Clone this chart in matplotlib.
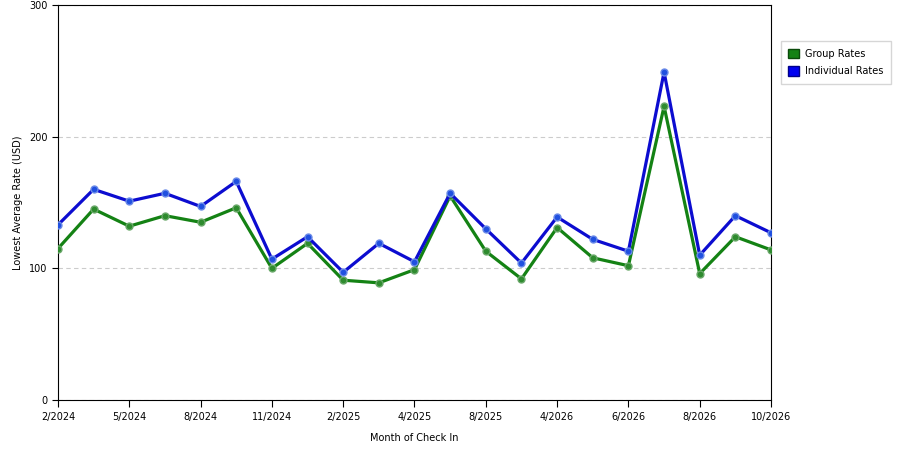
import matplotlib
matplotlib.use('Agg')
import matplotlib.pyplot as plt
from matplotlib.patches import Patch

months = ['2/2024', '3/2024', '5/2024', '6/2024', '8/2024', '9/2024', '11/2024',
          '12/2024', '2/2025', '3/2025', '4/2025', '6/2025', '8/2025', '9/2025',
          '4/2026', '5/2026', '6/2026', '7/2026', '8/2026', '9/2026', '10/2026']
tick_labels = ['2/2024', '5/2024', '8/2024', '11/2024', '2/2025', '4/2025',
               '8/2025', '4/2026', '6/2026', '8/2026', '10/2026']
group_rates = [115, 145, 132, 140, 135, 146, 100, 119, 91, 89, 99, 155, 113, 92,
               131, 108, 102, 223, 96, 124, 114]
indiv_rates = [133, 160, 151, 157, 147, 166, 107, 124, 97, 119, 105, 157, 130, 104,
               139, 122, 113, 249, 110, 140, 127]

green = '#148214'
blue = '#0c0cd0'

fig = plt.figure(figsize=(9, 4.5), dpi=100)
ax = fig.add_axes([0.0644, 0.111, 0.7923, 0.878])

x = list(range(len(months)))
ax.plot(x, group_rates, '-o', color=green, lw=2.3, ms=5,
        mfc='#2e8b2e', mec='#6aa86a', mew=1, zorder=3)
ax.plot(x, indiv_rates, '-o', color=blue, lw=2.3, ms=5,
        mfc='#2050e0', mec='#6a8ae8', mew=1, zorder=4)

ax.set_xlim(0, len(months) - 1)
ax.set_ylim(0, 300)
ax.set_xticks(x[::2])
ax.set_xticklabels(tick_labels, fontsize=7)
ax.set_yticks([0, 100, 200, 300])
ax.tick_params(axis='y', labelsize=7, length=4)
ax.tick_params(axis='x', length=5)
ax.grid(axis='y', color='#cccccc', linestyle=(0, (4, 3)), lw=0.8)
ax.set_axisbelow(True)

ax.set_xlabel('Month of Check In', fontsize=7, labelpad=8)
ax.set_ylabel('Lowest Average Rate (USD)', fontsize=7)

handles = [Patch(facecolor=green, edgecolor='#0a4a0a', label='Group Rates'),
           Patch(facecolor='#0000f0', edgecolor='#00008a', label='Individual Rates')]
fig.legend(handles=handles, loc='upper left', bbox_to_anchor=(0.862, 0.92),
           fontsize=7, frameon=True, fancybox=False, edgecolor='#cccccc',
           handlelength=1.1, handleheight=1.1, borderpad=0.8, labelspacing=0.8,
           handletextpad=0.6)

fig.savefig('out.png', dpi=100)
